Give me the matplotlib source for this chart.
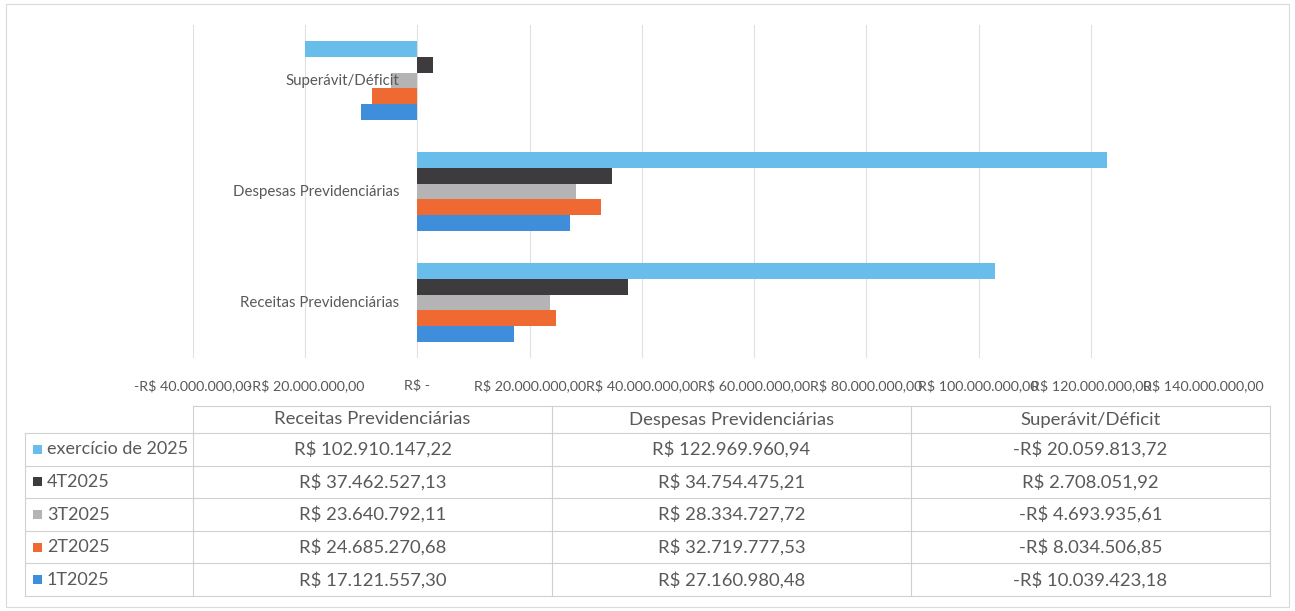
import numpy as np
import matplotlib.pyplot as plt
from matplotlib.patches import Rectangle
from matplotlib.lines import Line2D

plt.rcParams['font.family'] = ['Lato', 'DejaVu Sans']

# categories (bottom to top on the chart, same order as table columns)
categories = ['Receitas Previdenciárias', 'Despesas Previdenciárias', 'Superávit/Déficit']
# series, table order (top to bottom)
series = ['exercício de 2025', '4T2025', '3T2025', '2T2025', '1T2025']
exercicio = [102910147.22, 122969960.94, -20059813.72]
t4 = [37462527.13, 34754475.21, 2708051.92]
t3 = [23640792.11, 28334727.72, -4693935.61]
t2 = [24685270.68, 32719777.53, -8034506.85]
t1 = [17121557.30, 27160980.48, -10039423.18]
values = [exercicio, t4, t3, t2, t1]
colors = ['#69BDEA', '#3E3B3E', '#B4B4B4', '#EF6A33', '#3F8EDB']
xticks = [-40e6, -20e6, 0, 20e6, 40e6, 60e6, 80e6, 100e6, 120e6, 140e6]


def brl(v):
    s = '{:,.2f}'.format(abs(v)).replace(',', 'X').replace('.', ',').replace('X', '.')
    return ('-R$ ' if v < 0 else 'R$ ') + s


def brl_tick(v):
    if v == 0:
        return 'R$ -'
    return brl(v)


W, H = 1295, 611
fig = plt.figure(figsize=(W / 100, H / 100), dpi=100)
txt = '#595959'
grid = '#E0E0E0'

# outer chart frame
fig.patches.append(Rectangle((6 / W, 4 / H), 1283 / W, 603 / H, transform=fig.transFigure,
                             fill=False, edgecolor='#DADADA', lw=0.8))

ax = fig.add_axes([193 / W, 1 - 358 / H, (1203 - 193) / W, (358 - 25) / H])
y = np.arange(len(categories))
h = 0.143
for i, (vals, c) in enumerate(zip(values, colors)):
    off = (2 - i) * h
    ax.barh(y + off, vals, height=h, color=c, zorder=3)

ax.set_xlim(-40e6, 140e6)
ax.set_ylim(-0.5, 2.5)
ax.set_xticks(xticks)
ax.set_xticklabels([brl_tick(v) for v in xticks], fontsize=10.3, color=txt)
ax.tick_params(axis='x', length=0, pad=15)
ax.set_yticks([])
ax.grid(axis='x', color=grid, lw=0.8, zorder=0)
for s in ax.spines.values():
    s.set_visible(False)

# category labels sit next to the axis at zero
for yi, cat in zip(y, categories):
    ax.annotate(cat, (0, yi), xytext=(-13, 0), textcoords='offset points',
                ha='right', va='center', fontsize=10.8, color=txt, zorder=4)

# data table below the chart
tab_left, col0, tab_right = 25, 193, 1270
head_top, head_bot = 406, 433
row_h = 32.6
cols = np.linspace(col0, tab_right, len(categories) + 1)
order = [0, 1, 2]  # table column order: Receitas, Despesas, Superávit


def fx(px):
    return px / W


def fy(py):
    return 1 - py / H


def hline(x0, x1, yy):
    fig.lines.append(Line2D([fx(x0), fx(x1)], [fy(yy), fy(yy)], transform=fig.transFigure,
                            color='#D0D0D0', lw=0.8))


def vline(xx, y0, y1):
    fig.lines.append(Line2D([fx(xx), fx(xx)], [fy(y0), fy(y1)], transform=fig.transFigure,
                            color='#D0D0D0', lw=0.8))


bottom = head_bot + row_h * len(series)
hline(col0, tab_right, head_top)
for r in range(len(series) + 1):
    hline(tab_left, tab_right, head_bot + r * row_h)
vline(tab_left, head_bot, bottom)
for cx in cols:
    vline(cx, head_top, bottom)

for j, k in enumerate(order):
    fig.text(fx((cols[j] + cols[j + 1]) / 2), fy((head_top + head_bot) / 2), categories[k],
             ha='center', va='center', fontsize=13.3, color=txt)

for r, (name, vals, c) in enumerate(zip(series, values, colors)):
    yc = head_bot + (r + 0.5) * row_h
    fig.patches.append(Rectangle((fx(33), fy(yc + 4.5)), 9 / W, 9 / H, transform=fig.transFigure,
                                 facecolor=c, edgecolor='none'))
    fig.text(fx(47), fy(yc), name, ha='left', va='center', fontsize=13, color=txt)
    for j, k in enumerate(order):
        fig.text(fx((cols[j] + cols[j + 1]) / 2), fy(yc), brl(vals[k]),
                 ha='center', va='center', fontsize=13.3, color=txt)

fig.savefig('out.png', dpi=100, facecolor='white')
